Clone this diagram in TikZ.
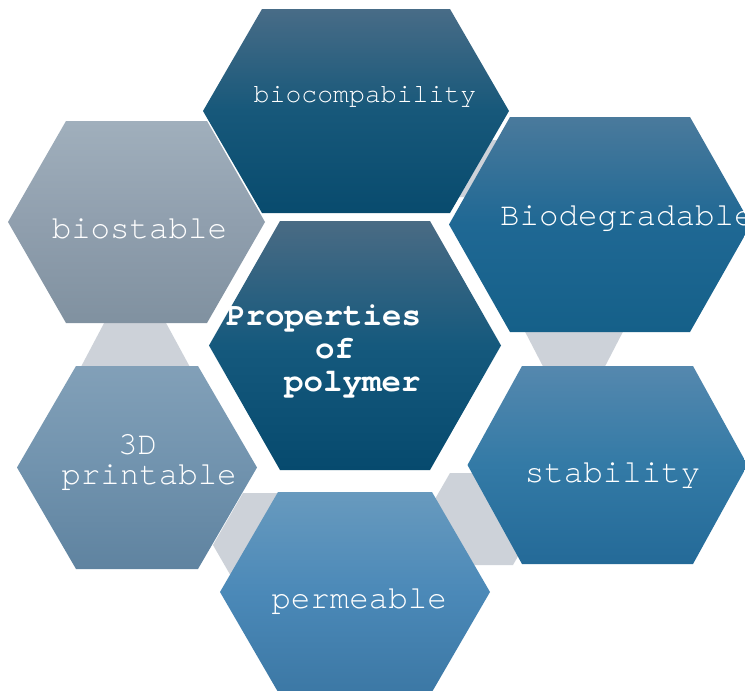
\documentclass[tikz,border=0pt]{standalone}
\usepackage{fontspec}
\newfontfamily\labelfont{texgyrecursor-regular.otf}[BoldFont=texgyrecursor-bold.otf]

% cell colours: top / middle / bottom of each vertical gradient
\definecolor{bioT}{HTML}{486C87}\definecolor{bioM}{HTML}{17587A}\definecolor{bioB}{HTML}{084B6E}
\definecolor{stbT}{HTML}{A0AFBC}\definecolor{stbM}{HTML}{909FAE}\definecolor{stbB}{HTML}{8091A0}
\definecolor{degT}{HTML}{4A7A9C}\definecolor{degM}{HTML}{1F6894}\definecolor{degB}{HTML}{156089}
\definecolor{cenT}{HTML}{4A6B84}\definecolor{cenM}{HTML}{15597D}\definecolor{cenB}{HTML}{064A6E}
\definecolor{prnT}{HTML}{82A0B8}\definecolor{prnM}{HTML}{7193AE}\definecolor{prnB}{HTML}{5F83A0}
\definecolor{styT}{HTML}{5588AE}\definecolor{styM}{HTML}{337AA6}\definecolor{styB}{HTML}{246A98}
\definecolor{prmT}{HTML}{689ABE}\definecolor{prmM}{HTML}{4B89B8}\definecolor{prmB}{HTML}{3C78A5}
\definecolor{joint}{HTML}{CDD2D9}

% hexagon with pointed left/right ends:
% #1,#2 centre, #3 half width, #4 half length of top edge, #5 half height, #6-#8 colours
\newcommand\hexcell[8]{%
  \shade[top color=#6, bottom color=#8, middle color=#7]
    ({#1-#3},{#2}) -- ({#1-#4},{#2-#5}) -- ({#1+#4},{#2-#5}) --
    ({#1+#3},{#2}) -- ({#1+#4},{#2+#5}) -- ({#1-#4},{#2+#5}) -- cycle;}

\tikzset{
  lbl/.style={text=white, inner sep=0pt, anchor=base,
              font=\labelfont\fontsize{32.5}{36}\selectfont},
  lblsmall/.style={lbl, font=\labelfont\fontsize{26.5}{30}\selectfont},
  lblbold/.style={lbl, anchor=base west,
              font=\labelfont\bfseries\fontsize{32.5}{36}\selectfont},
  jointfill/.style={fill=joint, draw=none}
}

\begin{document}
\begin{tikzpicture}[x=1pt, y=-1pt]
  \fill[white] (0,0) rectangle (745,691);
  \clip (0,0) rectangle (745,691);

  % grey joints lying behind the cells
  \path[jointfill] (111,310) -- (159,310) -- (197,380) -- (74,380) -- cycle;
  \path[jointfill] (243,493) -- (297,493) -- (327,545) -- (297,597) -- (243,597) -- (213,545) -- cycle;
  \path[jointfill] (450,473) -- (513,473) -- (539.5,519) -- (513,565) -- (450,565) -- (423.5,519) -- cycle;
  \path[jointfill] (520,322) -- (628,322) -- (599,378) -- (549,378) -- cycle;
  \path[jointfill] (480,140) -- (510,140) -- (490,197) -- (440,197) -- cycle;

  % cells
  \hexcell{356}{111}{153}{94}{102}{bioT}{bioM}{bioB}
  \hexcell{136.5}{222}{128.5}{70.5}{101}{stbT}{stbM}{stbB}
  \hexcell{600}{224.5}{151}{90}{107.5}{degT}{degM}{degB}
  \hexcell{355}{345.5}{146}{75}{124.5}{cenT}{cenM}{cenB}
  \hexcell{137}{467.5}{120}{61}{101.5}{prnT}{prnM}{prnB}
  \hexcell{607.5}{465}{140}{85.5}{99}{styT}{styM}{styB}
  \hexcell{355}{592}{135}{77}{100}{prmT}{prmM}{prmB}

  % labels
  \node[lblsmall] (tbiocomp) at (365,102) {biocompability};
  \node[lbl] (tbiostable) at (139.5,238) {biostable};
  \node[lbl, anchor=base west] (tbiodeg) at (500,225) {Biodegradable};
  \node[lbl] (tstability) at (612.5,482) {stability};
  \node[lbl] (tpermeable) at (359,608) {permeable};
  \node[lbl] (t3d) at (137.5,454) {3D};
  \node[lbl] (tprintable) at (149,484) {printable};
  \node[lblbold] (tprop) at (226,325) {Properties};
  \node[lblbold] (tof) at (315,358) {of};
  \node[lblbold] (tpoly) at (284,391) {polymer};
\end{tikzpicture}
\end{document}
